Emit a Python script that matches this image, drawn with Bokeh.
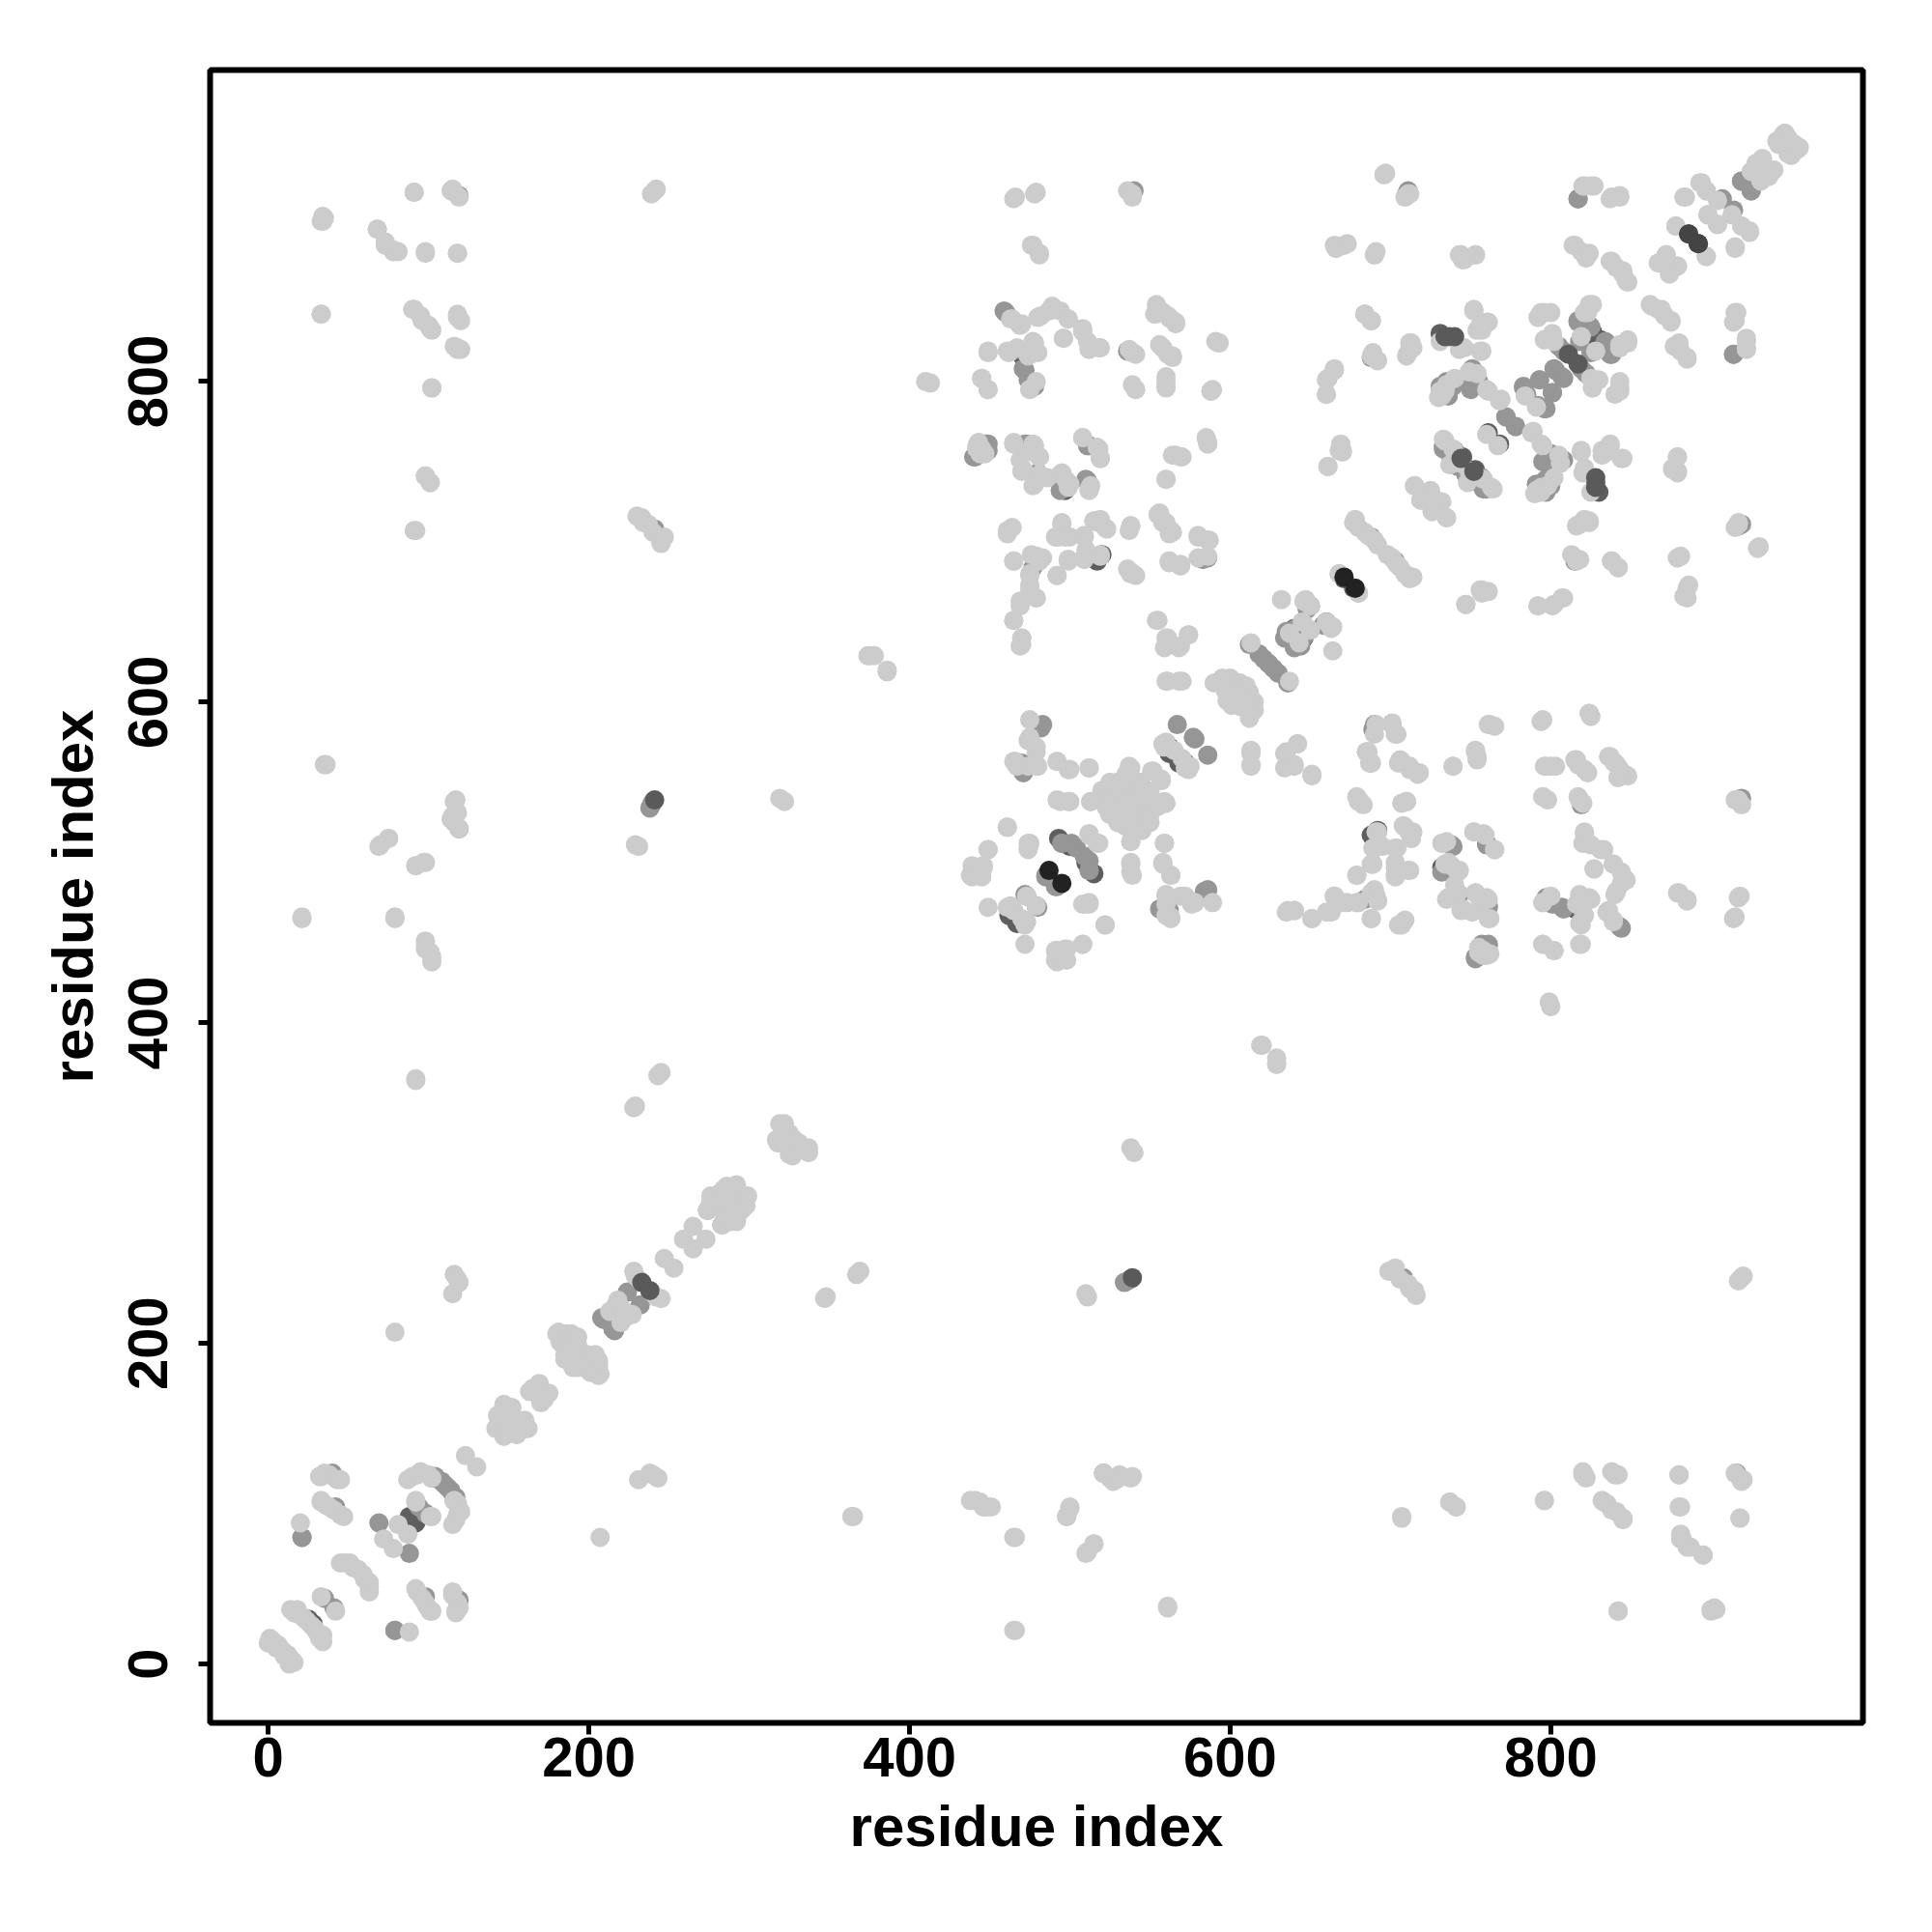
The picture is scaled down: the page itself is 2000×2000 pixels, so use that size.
import math
from bokeh.plotting import figure
from bokeh.embed import file_html
from bokeh.resources import INLINE
from bokeh.models import FixedTicker, Range1d

# Contacts as (residue, residue); the map is symmetric.
tick_values = [0, 200, 400, 600, 800]
x_title = "residue index"
y_title = "residue index"

mid_under = [(35,41),(21,79),(69,88),(79,21),(104,117),(108,114),(112,110),(94,98),(98,42),(119,40),(209,215),(208,216),(224,232),
 (274,283),(322,333),(239,536),(238,534),(240,538),(241,708),(459,844),(468,820),(471,808),(474,801),(448,761),(440,753),(473,761),(511,738),(511,760),
 (494,732),(477,684),(586,690),(482,584),(470,562),(578,577),(586,567),(485,491),(492,485),(495,512),(504,509),(512,501),(512,495),
 (473,479),(480,472),(586,483),(556,471),(689,583),(760,512),(739,510),(743,480),(761,472),(757,449),(761,449),(753,441),(797,478),
 (807,472),(843,460),(819,536),(710,917),(817,914),(907,914),(925,919),(919,925),(817,838),(825,834),(835,824),(837,817),(825,818),
 (805,822),(803,807),(808,802),(819,808),(793,801),(801,793),(785,792),(797,783),(783,796),(772,778),(778,772),(808,751),(739,800),
 (755,800),(757,740),(919,711),(815,688),(914,817),(612,636),(618,630),(621,627),(624,624),(635,641),(640,634),(688,703),(521,119),
 (916,119),(919,540),(116,102),(635,644),(641,646),(645,650),(648,658),(733,760),(737,755),(741,750),(747,742),(752,738),(758,733),
 (731,797),(735,800),(737,795),(745,800),(750,795),(791,736),(797,739),(800,745),(803,752)]
dark_under = [(25,28),(88,92),(166,170),(462,467),(466,464),(493,515),(500,510),(540,547),(562,568),(572,562),(650,660),(646,640),
 (692,520),(732,497),(815,471),(745,753),(743,750),(761,768),(737,828),(731,830),(825,828),(831,826),(677,671),(671,678),(688,517),(562,572)]

light_a = [(1,16),(3,12),(6,12),(8,9),(3,14),(5,10),(2,15),(0,13),(14,34),(16,32),(19,31),(22,29),(24,27),(18,34),(33,42),(20,88),
 (33,117),(35,119),(38,118),(43,115),(33,101),(36,99),(38,98),(41,96),(45,93),(45,63),(48,63),(51,63),(53,60),(56,59),(81,87),(72,78),
 (47,92),(33,102),(45,115),(32,117),(87,115),(90,117),(93,118),(96,119),(100,118),(102,116),(95,120),(92,101),(92,102),(123,130),
 (142,147),(147,162),(148,161),(149,158),(145,150),(150,155),(147,150),(169,175),(163,170),(165,172),(143,155),(146,158),(152,160),(155,147)]
light_b = [(180,206),(182,201),(184,199),(186,206),(189,206),(190,200),(190,195),(193,199),(192,196),(185,193),(183,205),(181,207),
 (183,200),(186,200),(188,197),(193,204),(195,190),(185,190),(213,220),(217,224),(220,222),(218,227),(228,245),(229,242),(239,232),(247,253),(259,265),(265,273),(274,283),(276,292),
 (282,294),(285,289),(286,298),(290,296),(288,291),(292,299),(278,285),(281,290),(284,296),(276,288),(290,287),(317,327),(318,325),(319,337),(325,331),(323,330),(322,337),(327,328)]
light_c = [(79,207),(116,243),(118,240),(115,231),(119,238),(92,364),(98,448),(101,444),(102,438),(79,465),(21,465),(36,561),(70,511),
 (75,515),(92,498),(98,500),(116,538),(118,531),(114,527),(119,521),(92,707),(98,741),(101,737),(102,796),(33,842),(91,845),(95,841),
 (100,835),(102,832),(118,840),(120,838),(118,821),(120,820),(98,881),(118,880),(68,895),(73,887),(78,882),(81,881),(35,902),(33,900),
 (91,918),(114,919),(116,918),(119,915),(241,919),(245,369),(243,367),(228,347),(229,348),(233,715),(237,711),(247,703),(245,699),
 (229,511),(231,510),(319,540),(322,538),(374,629),(378,629),(386,620),(410,800),(386,619),(375,629),(441,102),(446,98),(451,98),
 (466,79),(466,21),(365,92),(498,92),(500,97),(510,69),(515,75),(525,116),(529,115),(539,117),(561,35),(707,91),(737,101),(741,98),
 (796,102),(820,118),(822,116),(833,101),(838,96),(845,90),(842,118),(842,33),(880,118),(880,98),(881,78),(885,73),(895,68),(900,34),
 (903,34),(920,115),(918,91),(230,716),(234,712),(240,706),(245,700),(239,917),(242,920)]
light_d = [(464,839),(470,836),(482,841),(489,847),(494,844),(499,839),(508,833),(511,825),(518,821),(512,820),(496,827),(449,818),
 (462,818),(474,816),(478,824),(480,818),(479,800),(475,795),(445,802),(449,795),(539,818),(541,817),(556,823),(564,816),(593,824),
 (588,794),(541,795),(560,800),(560,796),(554,848),(558,843),(562,840),(566,837),(553,842),(684,842),(688,838),(689,817),(690,815),
 (665,807),(660,801),(660,792),(442,758),(447,755),(465,761),(478,760),(481,753),(471,755),(470,744),(478,736),(481,742),(486,740),
 (494,742),(498,738),(500,736),(513,735),(512,732),(508,765),(518,758),(519,752),(566,754),(570,753),(586,761),(560,739),(661,747),
 (668,757),(670,756),(464,709),(461,707),(495,711),(493,703),(500,703),(509,703),(515,713),(522,709),(519,714),(538,710),(556,718),
 (560,712),(564,706),(580,703),(587,701),(580,690),(562,688),(569,685),(538,681),(541,679),(465,688),(479,691),(483,690),(499,689),
 (509,690),(519,692),(492,679),(475,679),(475,673),(479,665),(469,663),(465,651),(470,640),(470,636),(555,651),(561,640),(560,635),
 (569,635),(574,642),(561,613),(570,613),(466,915),(479,918),(477,885),(481,880),(536,919),(539,917),(665,885),(673,886),(691,881),
 (697,930),(711,917),(714,821),(591,825),(589,795)]
light_e = [(632,664),(646,663),(660,650),(664,647),(637,643),(645,650),(668,680),(680,668),(677,712),(680,709),(684,706),(686,704),
 (690,701),(692,698),(678,714),(613,637),(595,615),(600,615),(605,612),(610,606),(598,610),(603,607),(600,605),(590,612),(612,606),
 (595,612),(597,607),(601,598),(603,612),(608,600),(610,610),(612,598),(600,610),(606,606),
 (474,576),(479,569),(480,560),(466,563),(474,560),(492,563),(500,558),(512,559),(494,538),(500,538),(513,538),(520,538),(538,559),
 (552,557),(557,551),(526,549),(550,539),(560,537),(526,535),(536,531),(546,523),(534,523),(538,513),(559,512),(558,499),(563,492),
 (530,540),(535,545),(540,535),(545,530),(530,525),(525,530),(520,545),(548,545),(555,535),(550,525),(540,525),(530,550),(537,540),
 (538,499),(539,492),(558,574),(572,559),(613,568),(613,560),(634,568),(642,574),(634,559),(640,560),(651,554),(680,538),(683,536),
 (691,519),(689,509),(695,510),(688,499),(679,492),(707,537),(687,562),(685,569),(705,562),(461,522),(449,508),(475,512),(474,509),
 (439,494),(446,497),(439,491),(445,491),(441,494),(443,492),(440,497),(445,495),(512,517),(518,512),(473,479),(463,473),(465,470),(449,472),(461,472),(508,474),(512,474),
 (522,461),(508,449),(498,446),(492,445),(492,438),(498,439),(495,440),(493,442),(497,443),(538,551),(542,545),(544,550),(570,565),(575,560)]
light_f = [(560,479),(560,467),(563,465),(572,479),(578,475),(589,475),(635,469),(640,470),(651,465),(660,469),(665,479),(670,475),
 (680,475),(688,481),(692,476),(688,465),(705,461),(691,586),(701,586),(704,580),(686,569),(688,562),(707,563),(712,558),(717,555),
 (739,560),(753,569),(754,564),(762,586),(765,585),(794,588),(824,593),(797,560),(803,560),(815,564),(821,558),(817,561),(836,566),
 (841,561),(846,555),(842,553),(839,563),(843,558),(795,541),(798,539),(818,539),(820,537),(710,538),(681,538),(690,509),(704,509),
 (713,515),(708,523),(712,518),(689,499),(703,497),(712,495),(703,491),(752,519),(759,517),(765,508),(733,512),(743,495),(734,499),
 (735,477),(745,471),(753,481),(761,477),(762,465),(751,469),(762,443),(755,444),(758,445),(760,442),(795,449),(802,445),(819,449),(795,475),(817,475),
 (825,477),(821,467),(819,461),(835,469),(839,463),(821,519),(821,512),(831,508),(827,496),(839,499),(845,491),(840,480),(844,487),
 (879,481),(885,476),(917,478),(914,465),(915,539),(799,413)]
light_g = [(696,929),(712,917),(690,879),(744,879),(753,879),(746,876),(684,842),(688,838),(688,816),(692,813),(713,824),(710,816),
 (821,922),(827,922),(837,914),(843,916),(815,885),(819,881),(824,880),(837,875),(841,871),(847,863),(845,867),(883,915),(893,924),
 (897,919),(932,939),(925,931),(939,932),(930,936),(936,928),(945,952),(950,948),(954,945),(928,936),(933,932),(941,950),(946,955),(948,942),(952,948),
 (898,904),(904,898),(913,904),(919,897),
 (924,894),(915,884),(878,897),(897,878),(872,879),(867,874),(879,872),(874,868),(915,843),(915,838),(922,825),(922,820),(862,848),
 (869,845),(875,838),(879,823),(885,814),(877,822),(794,843),(800,843),(826,848),(823,843),(848,824),(843,821),(819,828),(796,826),
 (801,828),(825,802),(830,801),(826,796),(843,796),(840,792),(791,784),(769,789),(788,768),(795,760),(805,754),(802,740),(794,734),
 (791,732),(819,756),(837,760),(835,756),(844,752),(821,746),(825,731),(879,753),(876,745),(879,743),(915,709),(929,696),(879,690),
 (885,671),(883,666),(818,689),(838,688),(842,684),(824,712),(818,711),(757,670),(761,669),(747,661),(792,660),(802,661),(808,665),
 (743,820),(757,819),(757,832),(752,845),(761,837),(754,832),(735,798),(731,794),(730,790),(749,806),(761,794),(733,764),(739,758),
 (749,744),(763,734),(737,748),(767,760),(715,735),(725,731),(732,725),(735,715),(719,726),(726,719),(713,678)]

dark_top = [(233,238),(241,539),(811,817),(828,740),(828,734),(744,752)]
vdark_top = [(886,892),(892,886)]
black_top = [(487,495),(671,678)]

under_mid_grey = "#969696"
under_dark_grey = "#5e5e5e"
light_grey = "#cccccc"
dark_grey = "#5a5a5a"
vdark_grey = "#444444"
black_grey = "#222222"

p = figure(width=1992, height=1992, output_backend="svg", toolbar_location=None,
           x_range=Range1d(-36.3, 994.7), y_range=Range1d(-36.7, 994.3),
           min_border_left=217, min_border_right=64, min_border_top=72, min_border_bottom=209)
p.grid.visible = False
p.outline_line_color = "black"
p.outline_line_width = 6


def draw(pts, color):
    xs = [a for a, b in pts] + [b for a, b in pts]
    ys = [b for a, b in pts] + [a for a, b in pts]
    p.scatter(xs, ys, size=20, fill_color=color, line_color=None)


draw(dark_under, under_dark_grey)
draw(mid_under, under_mid_grey)
for group in (light_a, light_b, light_c, light_d, light_e, light_f, light_g):
    draw(group, light_grey)
draw(dark_top, dark_grey)
draw(vdark_top, vdark_grey)
draw(black_top, black_grey)

for ax in (p.xaxis[0], p.yaxis[0]):
    ax.ticker = FixedTicker(ticks=tick_values)
    ax.minor_tick_line_color = None
    ax.axis_line_color = None
    ax.major_tick_line_color = "black"
    ax.major_tick_line_width = 5
    ax.major_tick_out = 12
    ax.major_tick_in = 0
    ax.major_label_text_font = "Liberation Sans"
    ax.major_label_text_font_style = "bold"
    ax.major_label_text_font_size = "58px"
    ax.major_label_text_color = "black"
    ax.axis_label_text_font = "Liberation Sans"
    ax.axis_label_text_font_style = "bold"
    ax.axis_label_text_font_size = "60px"
    ax.axis_label_text_color = "black"

p.xaxis[0].axis_label = x_title
p.yaxis[0].axis_label = y_title
p.xaxis[0].major_label_standoff = 3
p.xaxis[0].axis_label_standoff = 15
p.yaxis[0].major_label_orientation = "vertical"
p.yaxis[0].major_label_standoff = 32
p.yaxis[0].axis_label_standoff = 22

open("out.html", "w").write(file_html(p, INLINE))
